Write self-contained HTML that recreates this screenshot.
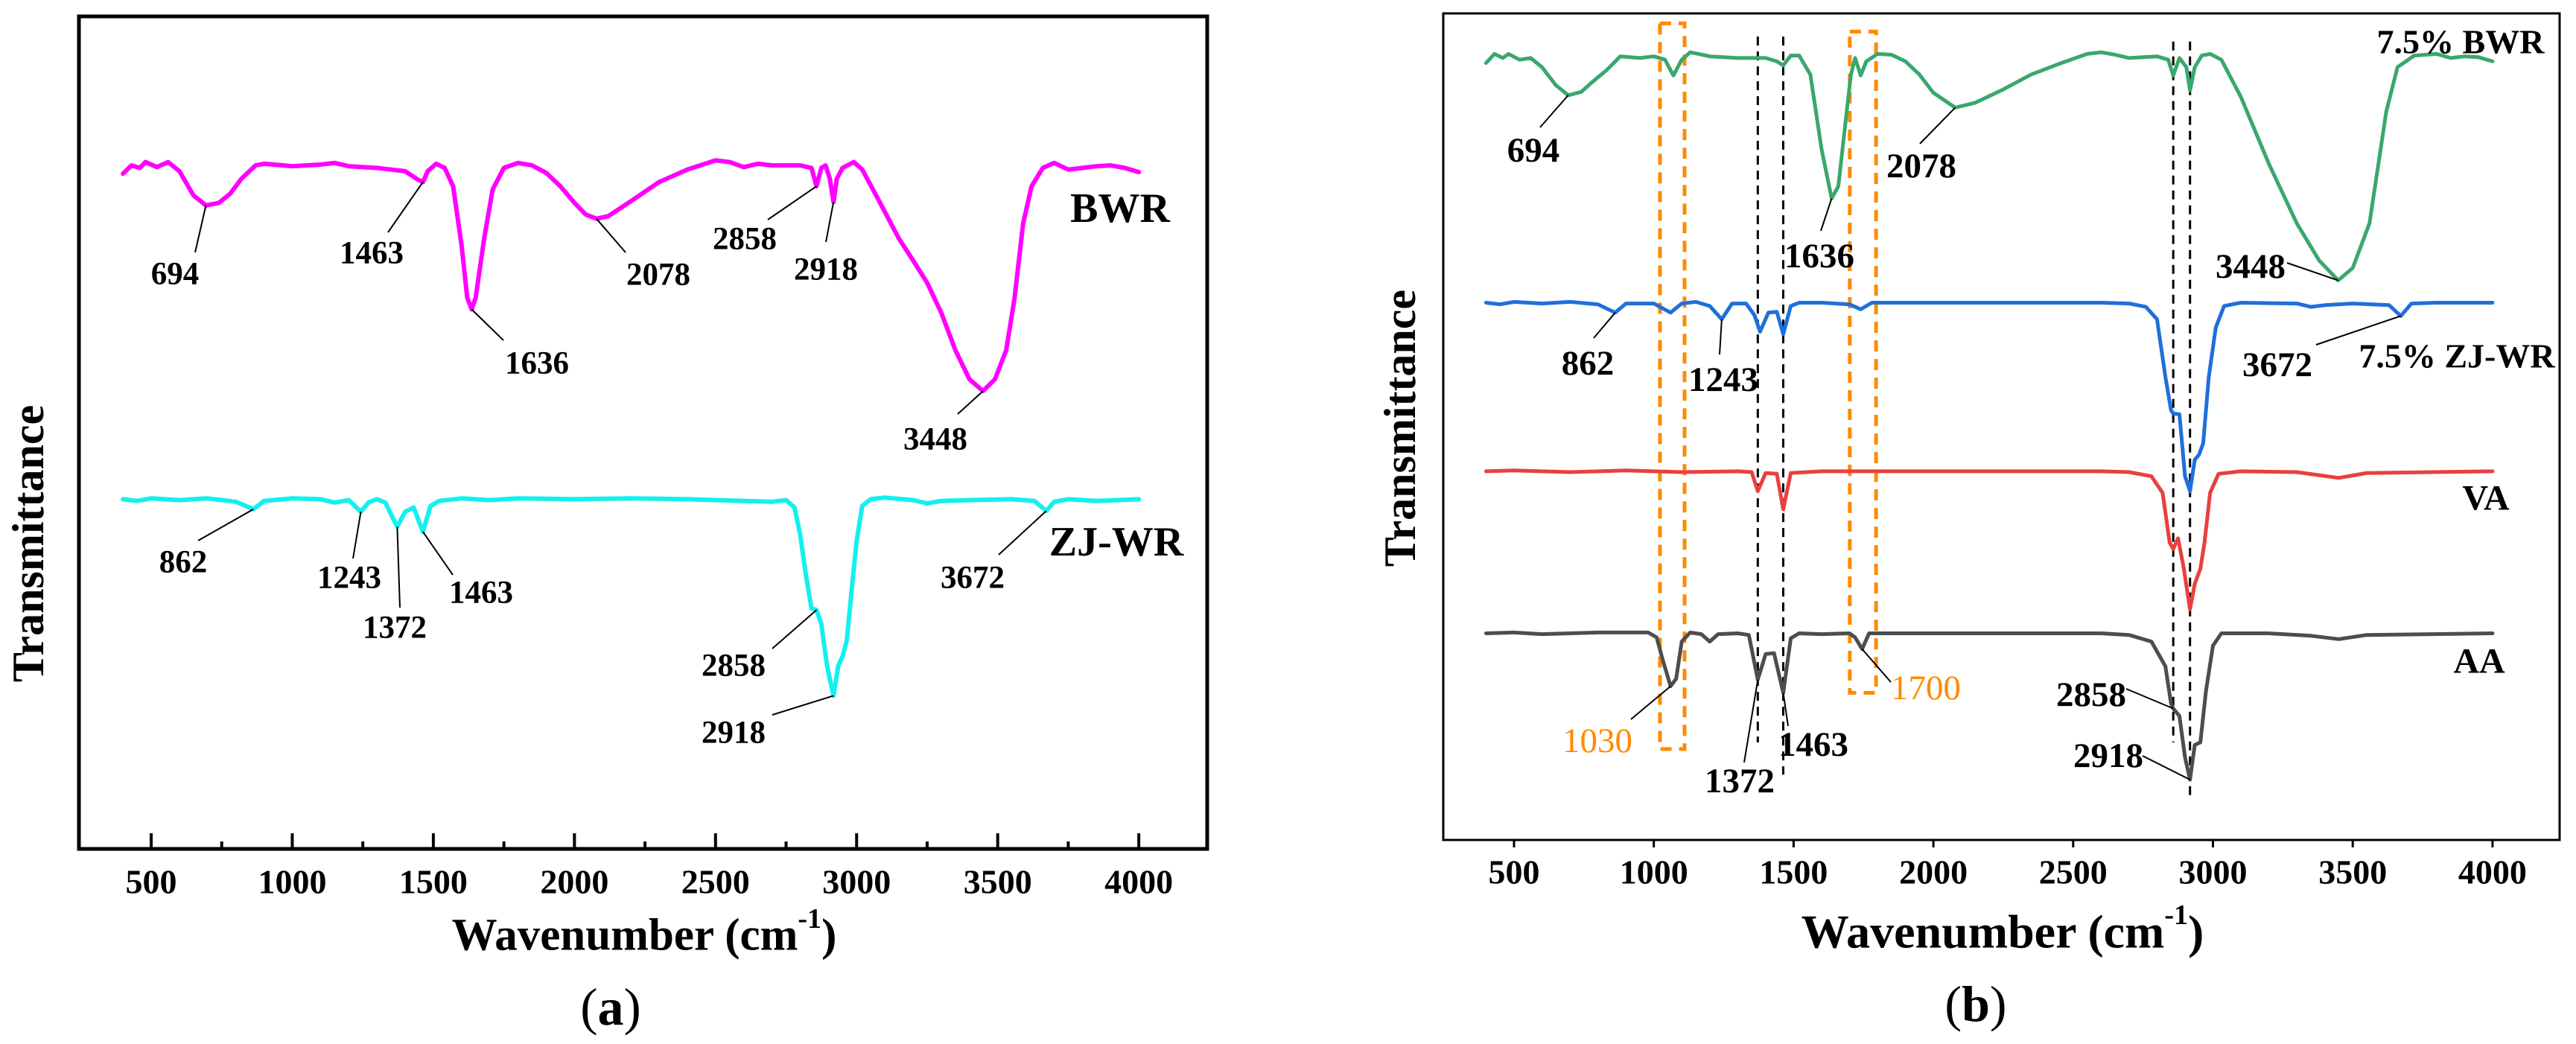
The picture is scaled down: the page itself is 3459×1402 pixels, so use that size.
<!DOCTYPE html>
<html><head><meta charset="utf-8"><style>
html,body{margin:0;padding:0;background:#fff;}
svg{display:block;font-family:"Liberation Serif",serif;}
</style></head><body>
<svg id="fig" width="3459" height="1402" viewBox="0 0 3459 1402" xmlns="http://www.w3.org/2000/svg">
<g id="pa"></g>
<g id="pb"></g>
</svg>
<script>
// ---------- data: panel (a) ----------
const bwrW = [400,430,460,480,520,560,600,650,694,740,780,820,870,900,1000,1100,1150,1200,1300,1350,1400,1440,1463,1480,1510,1540,1570,1600,1620,1636,1650,1680,1710,1750,1800,1850,1900,1950,2000,2040,2078,2120,2200,2300,2400,2500,2550,2600,2650,2700,2800,2840,2858,2875,2890,2905,2918,2930,2950,2990,3020,3080,3150,3200,3250,3300,3350,3400,3448,3490,3530,3560,3590,3620,3660,3700,3750,3800,3850,3900,3950,4000];
const bwrT = [81.1,82.1,81.8,82.5,81.9,82.5,81.4,78.5,77.3,77.6,78.7,80.5,82.1,82.3,82.0,82.2,82.4,82.0,81.8,81.6,81.4,80.5,80.1,81.4,82.3,81.8,79.6,72.5,66.2,64.8,66.2,73.3,79.2,81.8,82.4,82.1,81.2,79.6,77.6,76.2,75.7,76.0,77.8,80.1,81.6,82.7,82.5,81.9,82.3,82.1,82.1,81.8,79.6,81.8,82.1,80.5,77.7,80.5,81.8,82.5,81.6,77.8,73.3,70.7,68.0,64.4,59.9,56.4,55.0,56.4,59.9,66.2,75.1,79.6,81.8,82.4,81.6,81.8,82.0,82.1,81.8,81.3];
const zjW = [400,450,500,600,700,800,862,900,1000,1100,1150,1200,1243,1270,1300,1330,1360,1372,1400,1430,1463,1490,1520,1600,1700,1800,2000,2200,2400,2600,2700,2750,2780,2800,2820,2840,2858,2875,2895,2918,2935,2950,2965,2985,3000,3020,3050,3100,3200,3250,3300,3400,3550,3630,3672,3700,3750,3850,4000];
const zjT = [42.0,41.8,42.1,41.9,42.1,41.7,40.8,41.8,42.1,42.0,41.6,41.9,40.5,41.6,42.0,41.6,39.5,38.7,40.5,41.0,38.1,41.2,41.8,42.1,41.9,42.1,42.0,42.1,42.0,41.8,41.7,41.9,41.0,37.7,33.0,28.9,28.7,27.0,22.0,18.4,22.0,23.1,25.0,32.0,37.0,41.2,42.0,42.2,41.9,41.5,41.8,41.9,42.0,41.8,40.6,41.7,42.0,41.8,42.0];
// ---------- data: panel (b) ----------
const gBwrW = [400,430,460,480,520,560,600,650,694,740,780,830,880,950,1000,1040,1070,1100,1130,1160,1200,1300,1400,1440,1463,1490,1520,1560,1600,1636,1660,1690,1705,1720,1740,1760,1800,1850,1900,1950,2000,2078,2150,2250,2350,2450,2550,2600,2650,2700,2800,2840,2858,2880,2905,2918,2935,2960,2990,3030,3100,3200,3300,3380,3448,3500,3560,3620,3660,3720,3800,3850,3900,3950,4000];
const gBwrT = [94.0,95.1,94.6,95.1,94.4,94.6,93.5,91.3,90.1,90.5,91.7,93.1,94.8,94.6,94.8,94.4,92.5,94.4,95.3,95.1,94.8,94.6,94.6,94.2,93.7,94.9,94.9,92.6,83.6,77.6,79.1,88.1,92.6,94.6,92.5,94.2,95.1,95.0,94.2,92.6,90.4,88.6,89.2,90.8,92.6,93.9,95.1,95.3,95.0,94.6,94.8,94.4,92.5,94.6,93.5,90.7,93.5,94.9,95.1,94.4,89.9,81.8,74.6,70.1,67.7,69.2,74.6,88.1,93.5,94.9,95.1,94.6,94.8,94.7,94.2];
const zjBW = [400,450,500,600,700,800,862,900,1000,1060,1100,1150,1200,1243,1280,1330,1360,1380,1410,1440,1463,1490,1520,1600,1700,1740,1780,2000,2300,2600,2700,2760,2800,2830,2850,2858,2880,2900,2918,2935,2950,2965,2985,3010,3040,3100,3300,3350,3400,3500,3630,3672,3710,3800,4000];
const zjBT = [65.0,64.8,65.1,64.9,65.1,64.8,63.8,64.9,64.9,63.8,64.9,65.1,64.6,63.0,64.9,64.9,63.5,61.5,63.8,63.9,61.2,64.6,65.0,65.0,64.8,64.2,65.0,65.0,65.0,65.0,64.9,64.5,63.0,56.0,52.0,51.6,51.5,44.0,42.2,46.0,46.6,48.0,56.0,62.0,64.6,65.0,64.9,64.5,64.7,64.9,64.7,63.4,64.9,65.0,65.0];
const vaW = [400,500,700,900,1100,1300,1350,1372,1400,1440,1463,1490,1600,1800,2200,2600,2700,2780,2820,2845,2858,2875,2895,2918,2935,2955,2970,2990,3020,3100,3300,3450,3550,4000];
const vaT = [44.6,44.7,44.5,44.7,44.5,44.6,44.5,42.2,44.4,44.3,40.0,44.4,44.6,44.6,44.6,44.6,44.5,44.0,42.0,36.0,35.2,36.5,33.0,27.9,31.0,32.8,36.0,42.0,44.3,44.6,44.5,43.8,44.4,44.6];
const aaW = [400,500,600,800,980,1010,1030,1060,1080,1100,1130,1170,1200,1230,1300,1340,1372,1400,1430,1463,1490,1520,1600,1700,1720,1745,1770,1900,2300,2600,2700,2780,2830,2850,2858,2880,2900,2918,2935,2955,2975,3000,3030,3200,3350,3450,3550,4000];
const aaT = [25.0,25.1,24.9,25.1,25.1,24.5,22.0,18.6,19.5,24.0,25.1,24.9,24.0,24.9,25.0,24.8,19.4,22.5,22.6,17.8,24.4,25.0,24.9,25.0,24.5,23.1,25.0,25.0,25.0,25.0,24.8,24.0,21.0,16.5,15.9,15.0,10.0,7.3,11.5,11.8,18.0,23.5,25.0,25.0,24.7,24.3,24.8,25.0];
const xTicks = [500,1000,1500,2000,2500,3000,3500,4000];
const xMinor = [750,1250,1750,2250,2750,3250,3750];

const NS = "http://www.w3.org/2000/svg";
function mk(parent, tag, attrs, text){
  const e = document.createElementNS(NS, tag);
  for (const k in attrs) e.setAttribute(k, attrs[k]);
  if (text !== undefined) e.textContent = text;
  parent.appendChild(e);
  return e;
}
const xa = w => 203 + (w - 500) * 0.3789;
const ya = v => 1140 - v * 11.18;
const xb = w => 2033 + (w - 500) * 0.3754;
const yb = v => 1128 - v * 11.1;

function series(parent, W, T, xf, yf, color, sw, name){
  const d = W.map((w,i)=>(i?'L':'M')+xf(w).toFixed(1)+','+yf(T[i]).toFixed(1)).join(' ');
  const p = mk(parent,'path',{d:d,fill:'none',stroke:color,'stroke-width':sw,'stroke-linejoin':'round','stroke-linecap':'round'});
  
  
}
function label(parent, x, y, txt, size, color, name, weight){
  const t = mk(parent,'text',{x:x,y:y,'font-size':size,'font-weight':weight||'bold',fill:color||'#000','text-anchor':'middle','dominant-baseline':'central'}, txt);
  
  
  return t;
}
function leader(parent, x1,y1,x2,y2, name){
  const l = mk(parent,'line',{x1:x1,y1:y1,x2:x2,y2:y2,stroke:'#000','stroke-width':2});
  
  
}

// ---------- panel (a) ----------
const pa = document.getElementById('pa');
const fa = mk(pa,'rect',{x:106,y:22,width:1515,height:1118,fill:'none',stroke:'#000','stroke-width':5});


xTicks.forEach(w=>{
  const t = mk(pa,'line',{x1:xa(w),x2:xa(w),y1:1140,y2:1119,stroke:'#000','stroke-width':4});
  
  
  label(pa, xa(w), 1184, String(w), 46, '#000', 'x-tick-label-a');
});
xMinor.forEach(w=>{
  const t = mk(pa,'line',{x1:xa(w),x2:xa(w),y1:1140,y2:1130,stroke:'#000','stroke-width':4});
  
  
});
label(pa, 865, 1256, '', 61, '#000', 'x-axis-title-a');
(function(){
  const t = pa.lastChild;
  t.textContent = 'Wavenumber (cm';
  mk(t,'tspan',{dy:-22,'font-size':38},'-1');
  mk(t,'tspan',{dy:22},')');
})();
const ytA = label(pa, 38, 730, 'Transmittance', 60, '#000', 'y-axis-title-a');
ytA.setAttribute('transform','rotate(-90 38 730)');
label(pa, 820, 1353, '(a)', 70, '#000', 'panel-label-a', 'normal').innerHTML = '(<tspan font-weight="bold">a</tspan>)';

series(pa, bwrW, bwrT, xa, ya, '#ff00ff', 6, 'bwr-curve');
series(pa, zjW, zjT, xa, ya, '#14f0f0', 6, 'zjwr-curve');

const annA = [
 ['694',694,77.3,262,339,235,368],['1463',1463,80.1,521,312,499,340],['1636',1636,64.8,676,457,721,488],
 ['2078',2078,75.7,840,339,884,369],['2858',2858,79.6,1031,295,1000,321],['2918',2918,77.7,1109,325,1109,362],
 ['3448',3448,55.0,1286,556,1256,590],
 ['862',862,40.8,266,726,246,755],['1243',1243,40.5,474,750,469,776],['1372',1372,38.7,537,816,530,843],
 ['1463',1463,38.1,608,772,646,796],['2858',2858,28.7,1037,871,985,894],['2918',2918,18.4,1037,960,985,984],
 ['3672',3672,40.6,1341,745,1306,776]
];
annA.forEach(a=>{
  leader(pa, xa(a[1]), ya(a[2]), a[3], a[4], 'peak-leader-a');
  label(pa, a[5], a[6], a[0], 43, '#000', 'peak-label-a');
});
label(pa, 1504, 280, 'BWR', 56, '#000', 'series-label-bwr');
label(pa, 1499, 728, 'ZJ-WR', 56, '#000', 'series-label-zjwr');

// ---------- panel (b) ----------
const pb = document.getElementById('pb');
const fb = mk(pb,'rect',{x:1938,y:18,width:1499,height:1110,fill:'none',stroke:'#000','stroke-width':3});


xTicks.forEach(w=>{
  const t = mk(pb,'line',{x1:xb(w),x2:xb(w),y1:1128,y2:1138,stroke:'#000','stroke-width':3});
  
  
  label(pb, xb(w), 1171, String(w), 46, '#000', 'x-tick-label-b');
});
label(pb, 2689, 1251, '', 64, '#000', 'x-axis-title-b');
(function(){
  const t = pb.lastChild;
  t.textContent = 'Wavenumber (cm';
  mk(t,'tspan',{dy:-22,'font-size':38},'-1');
  mk(t,'tspan',{dy:22},')');
})();
const ytB = label(pb, 1880, 575, 'Transmittance', 60, '#000', 'y-axis-title-b');
ytB.setAttribute('transform','rotate(-90 1880 575)');
label(pb, 2653, 1348, '(b)', 68, '#000', 'panel-label-b', 'normal').innerHTML = '(<tspan font-weight="bold">b</tspan>)';

const refW = [1372,1463,2858,2918];
const refTop = [97.2,97.2,96.6,96.6];
const refBot = [11.8,7.9,11.8,4.9];
refW.forEach((w,i)=>{
  const l = mk(pb,'line',{x1:xb(w),x2:xb(w),y1:yb(refTop[i]),y2:yb(refBot[i]),stroke:'#000','stroke-width':3,'stroke-dasharray':'12 8'});
  
  
});
const boxW1 = [1022,1701], boxW2 = [1110,1795], boxTop = [98.8,97.8], boxBot = [11.0,17.8];
boxW1.forEach((w,i)=>{
  const r = mk(pb,'rect',{x:xb(w),y:yb(boxTop[i]),width:xb(boxW2[i])-xb(w),height:yb(boxBot[i])-yb(boxTop[i]),fill:'none',stroke:'#ff8a00','stroke-width':5,'stroke-dasharray':'15 10'});
  
  
});

series(pb, gBwrW, gBwrT, xb, yb, '#3aa76d', 5, 'bwr-7.5-curve');
series(pb, zjBW, zjBT, xb, yb, '#1f6fdc', 5, 'zjwr-7.5-curve');
series(pb, vaW, vaT, xb, yb, '#e8403f', 5, 'va-curve');
series(pb, aaW, aaT, xb, yb, '#4d4d4d', 5, 'aa-curve');

const annB = [
 ['694',694,90.1,2068,171,2059,202,'#000','bold'],['1636',1636,77.6,2445,310,2443,344,'#000','bold'],
 ['2078',2078,88.6,2578,193,2580,223,'#000','bold'],['3448',3448,67.7,3071,353,3022,358,'#000','bold'],
 ['862',862,63.8,2140,454,2132,488,'#000','bold'],['1243',1243,63.0,2309,476,2314,510,'#000','bold'],
 ['3672',3672,63.4,3110,463,3058,490,'#000','bold'],
 ['1030',1060,18.6,2190,966,2145,995,'#ff8a00','normal'],['1372',1372,19.4,2342,1024,2336,1049,'#000','bold'],
 ['1463',1463,17.8,2401,975,2435,1000,'#000','bold'],['1700',1745,23.1,2539,916,2586,924,'#ff8a00','normal'],
 ['2858',2858,15.9,2855,925,2808,933,'#000','bold'],['2918',2918,7.3,2877,1015,2831,1015,'#000','bold']
];
annB.forEach(a=>{
  leader(pb, xb(a[1]), yb(a[2]), a[3], a[4], 'peak-leader-b');
  label(pb, a[5], a[6], a[0], 47, a[7], 'peak-label-b', a[8]);
});
label(pb, 3304, 56, '7.5% BWR', 46, '#000', 'series-label-bwr-7.5');
label(pb, 3299, 478, '7.5% ZJ-WR', 46, '#000', 'series-label-zjwr-7.5');
label(pb, 3338, 669, 'VA', 48, '#000', 'series-label-va');
label(pb, 3329, 888, 'AA', 48, '#000', 'series-label-aa');
</script>
</body></html>
